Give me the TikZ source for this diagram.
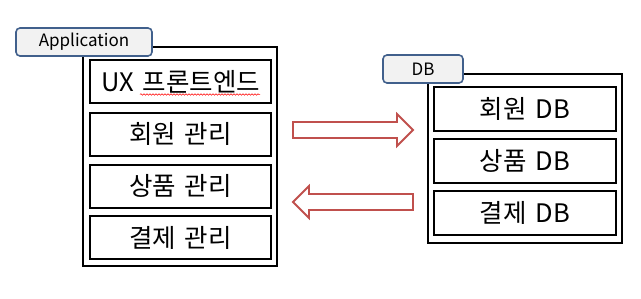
\documentclass[tikz,border=0pt]{standalone}
\usepackage{fontspec}
\setmainfont{Noto Sans CJK KR}
\usetikzlibrary{decorations.pathmorphing}
\definecolor{tabfill}{HTML}{F2F2F2}
\definecolor{tabline}{HTML}{41608C}
\definecolor{arrowred}{HTML}{C0504D}
\newcommand{\gap}{\hspace{0.35em}}
\begin{document}
\begin{tikzpicture}[x=1pt,y=-1pt,
  outerbox/.style={draw=black,line width=2pt,fill=white},
  itembox/.style={draw=black,line width=2pt,fill=white,font=\fontsize{25.5}{27}\selectfont},
  tabbox/.style={draw=tabline,fill=tabfill,line width=1.6pt,rounded corners=4pt,font=\fontsize{17}{18}\selectfont},
  blockarrow/.style={draw=arrowred,line width=1.8pt,fill=white,line join=miter}]
\useasboundingbox (0,0) rectangle (641,298);
% Application
\draw[outerbox] (83,47) rectangle (277,266);
\node[tabbox,minimum width=136pt,minimum height=28pt,inner sep=0pt] (apptab) at (84,42) {Application};
\node[itembox,minimum width=181pt,minimum height=43pt,inner sep=0pt] (ux) at (180.5,81.5) {UX\gap 프론트엔드};
\node[itembox,minimum width=181pt,minimum height=43pt,inner sep=0pt] (mem) at (180.5,134) {회원\gap 관리};
\node[itembox,minimum width=181pt,minimum height=43pt,inner sep=0pt] (prod) at (180.5,186) {상품\gap 관리};
\node[itembox,minimum width=181pt,minimum height=43pt,inner sep=0pt] (pay) at (180.5,237.5) {결제\gap 관리};
\draw[red,line width=0.5pt,decorate,decoration={snake,amplitude=0.8pt,segment length=3pt}] (140,94.5) -- (260,94.5);
% DB
\draw[outerbox] (428,74) rectangle (622,243);
\node[tabbox,minimum width=80pt,minimum height=28pt,inner sep=0pt] (dbtab) at (423,69) {DB};
\node[itembox,minimum width=182pt,minimum height=44pt,inner sep=0pt] (memdb) at (525,109) {회원\gap DB};
\node[itembox,minimum width=182pt,minimum height=44pt,inner sep=0pt] (proddb) at (525,160.5) {상품\gap DB};
\node[itembox,minimum width=182pt,minimum height=44pt,inner sep=0pt] (paydb) at (525,213) {결제\gap DB};
% arrows
\draw[blockarrow] (293,122) -- (397,122) -- (397,114) -- (413,130) -- (397,146) -- (397,138) -- (293,138) -- cycle;
\draw[blockarrow] (413,194) -- (309,194) -- (309,186) -- (293,202) -- (309,218) -- (309,210) -- (413,210) -- cycle;
\end{tikzpicture}
\end{document}
